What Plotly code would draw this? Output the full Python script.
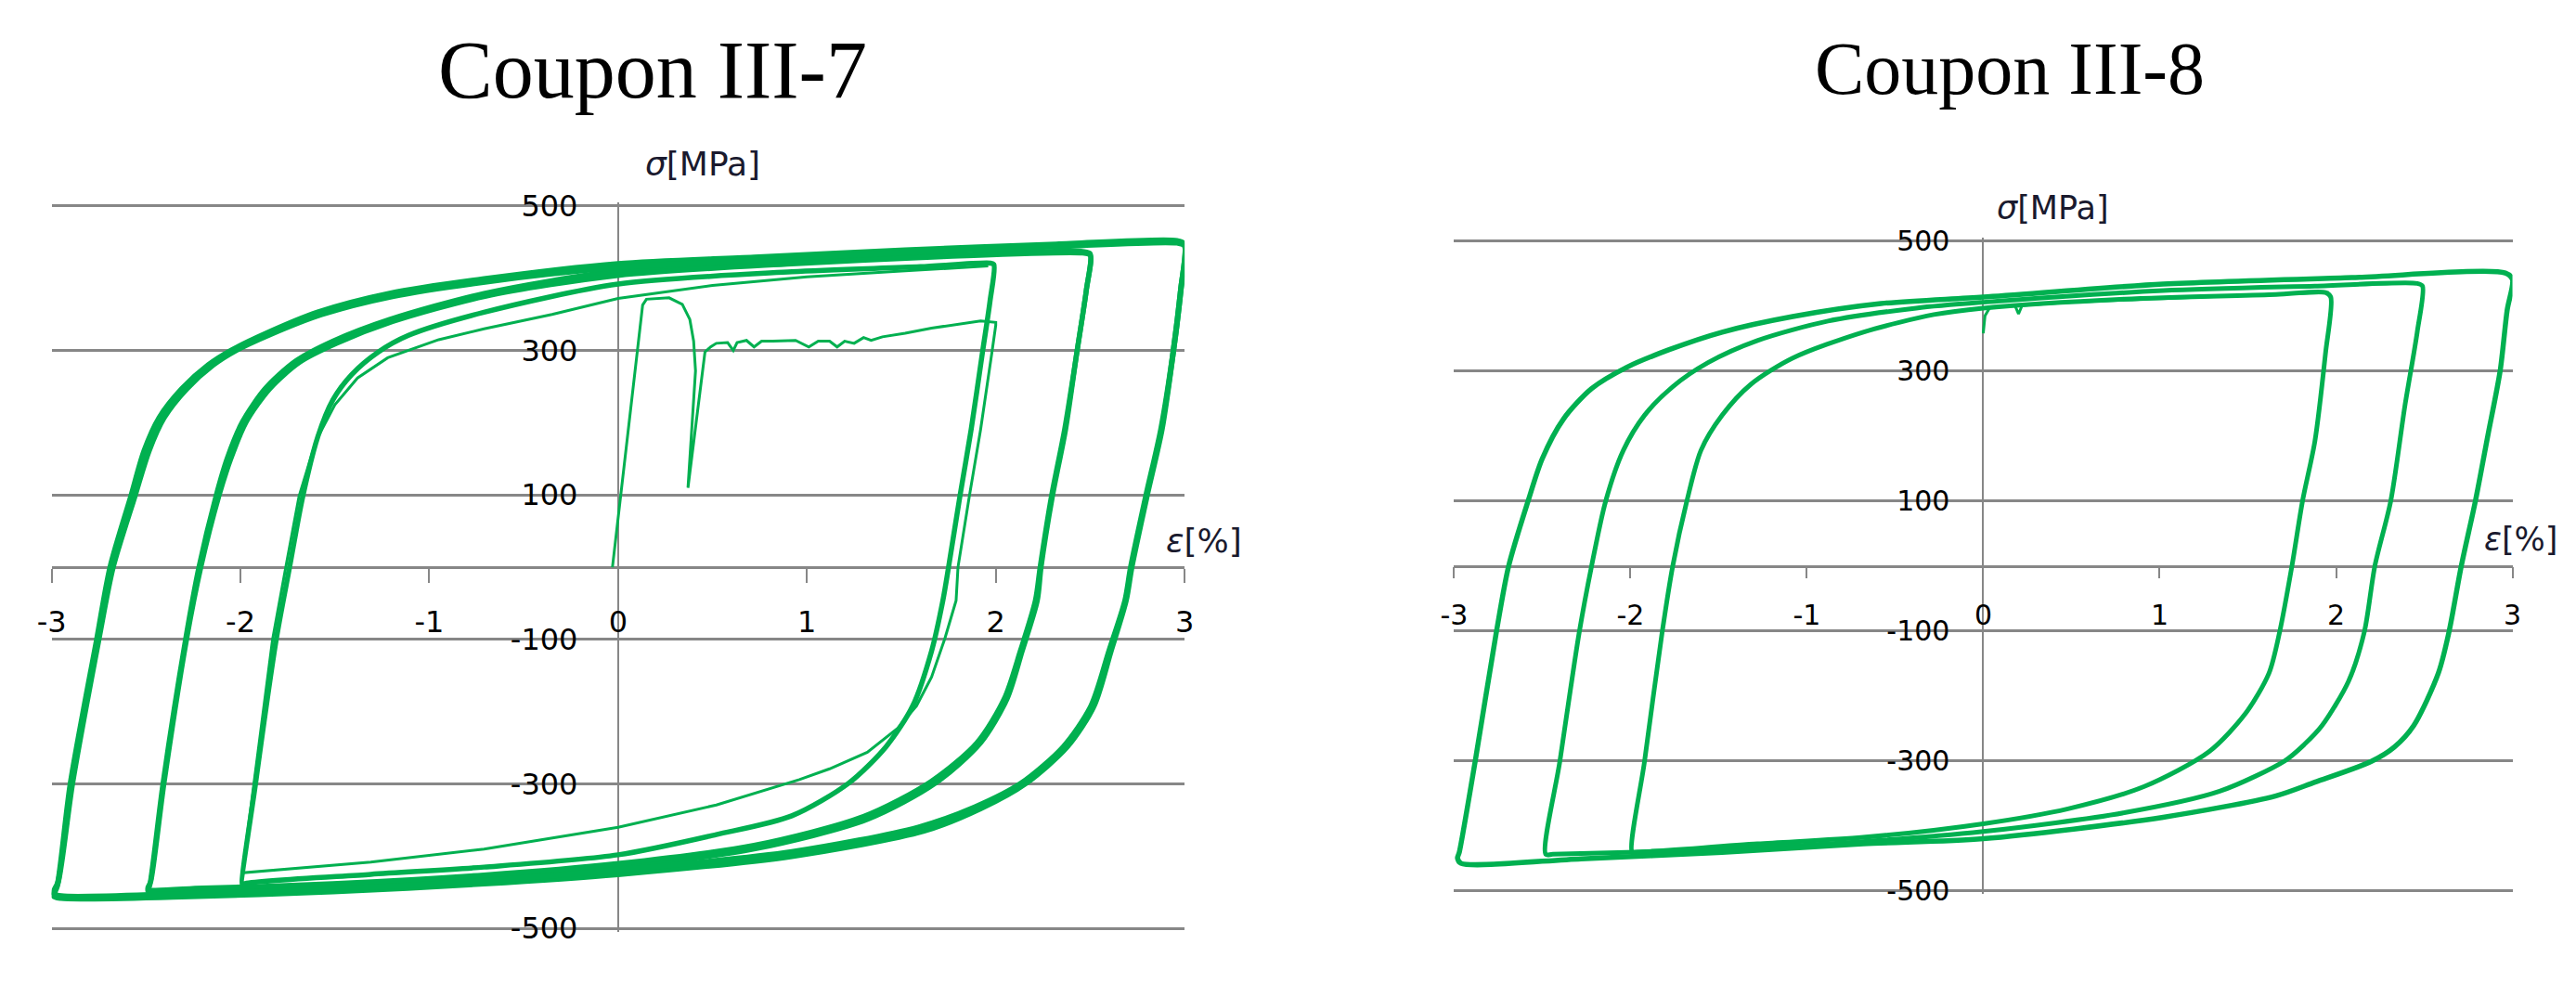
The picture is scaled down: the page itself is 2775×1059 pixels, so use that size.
import plotly.graph_objects as go

GREEN = "#00B050"
GRID = "#878787"

# tick values / labels (shared by both panels)
x_ticks = [-3, -2, -1, 0, 1, 2, 3]
x_labels = ["-3", "-2", "-1", "0", "1", "2", "3"]
y_ticks = [-500, -300, -100, 100, 300, 500]
y_labels = ["-500", "-300", "-100", "100", "300", "500"]

# ---- Coupon III-7 ----
# first cycle: loading with yield plateau to 2 %, back to -2 %, up again
c7_first_eps = [-0.03, 0.13, 0.15, 0.27, 0.34, 0.38, 0.40, 0.41, 0.37, 0.44, 0.46, 0.49,
                0.52, 0.58, 0.61, 0.63, 0.68, 0.72, 0.76, 0.82, 0.94, 1.01, 1.06, 1.12,
                1.16, 1.20, 1.25, 1.30, 1.34, 1.40, 1.52, 1.66, 1.80, 1.92, 2.00,
                2.00, 1.98, 1.92, 1.86, 1.80, 1.79, 1.73, 1.66, 1.58, 1.48, 1.32, 1.12,
                0.96, 0.52, 0.00, -0.71, -1.31, -1.99,
                -1.93, -1.83, -1.76, -1.69, -1.60, -1.50, -1.38, -1.22, -0.95, -0.71,
                -0.35, 0.00, 0.50, 1.00, 1.50, 1.96]
c7_first_sig = [0, 363, 371, 373, 364, 343, 313, 272, 110, 257, 298, 305,
                310, 311, 300, 311, 314, 305, 313, 313, 314, 305, 313, 313,
                305, 313, 310, 318, 314, 319, 324, 331, 336, 341, 339,
                335, 298, 191, 98, 0, -46, -99, -152, -192, -223, -256, -279,
                -294, -329, -360, -390, -408, -423,
                -300, -100, 0, 98, 175, 225, 262, 290, 315, 330,
                350, 372, 390, 402, 410, 417]

# +-2 % cycles
c7_a20_eps = [-1.99, -1.92, -1.81, -1.74, -1.67, -1.59, -1.51, -1.41, -1.27, -1.11, -0.71,
              0.00, 0.92, 1.60, 1.97, 1.99, 1.97, 1.93, 1.87, 1.81, 1.75, 1.72, 1.66,
              1.56, 1.42, 1.22, 0.92, 0.52, 0.00, -0.71, -1.31, -1.98, -1.99]
c7_a20_sig = [-440, -299, -99, 0, 98, 181, 232, 267, 298, 321, 353,
              392, 409, 416, 421, 419, 369, 298, 191, 98, 0, -46, -116,
              -192, -248, -299, -344, -370, -398, -415, -425, -438, -440]

# +-2.5 % cycles (outer and inner strand of the bundle)
c7_a25_eps = [-2.49, -2.48, -2.41, -2.29, -2.22, -2.13, -2.07, -1.99, -1.87, -1.71, -1.51,
              -1.21, -0.71, 0.00, 0.92, 1.72, 2.46, 2.50, 2.48, 2.43, 2.37, 2.30, 2.24,
              2.22, 2.14, 2.06, 1.92, 1.68, 1.32, 0.72, 0.00, -0.71, -1.51, -2.20, -2.49]
c7_a25_sig = [-448, -440, -299, -99, 0, 98, 151, 201, 247, 285, 313,
              343, 379, 410, 423, 432, 437, 434, 384, 298, 191, 98, 0,
              -46, -116, -182, -243, -299, -349, -390, -415, -430, -441, -447, -448]
c7_a25b_eps = [-2.49, -2.475, -2.405, -2.285, -2.21, -2.115, -2.05, -1.97, -1.845, -1.685, -1.49,
               -1.195, -0.705, 0.00, 0.92, 1.72, 2.46, 2.50, 2.48, 2.43, 2.365, 2.295, 2.235,
               2.21, 2.13, 2.045, 1.90, 1.655, 1.30, 0.72, 0.00, -0.71, -1.51, -2.20, -2.49]
c7_a25b_sig = [-445, -435, -299, -99, 0, 98, 151, 201, 247, 284, 310,
               340, 375, 404, 420, 430, 435, 432, 384, 298, 191, 98, 0,
               -46, -116, -182, -243, -297, -345, -385, -410, -426, -438, -444, -445]

# +-3 % cycles (outer and inner strand of the bundle)
c7_a30_eps = [-2.99, -2.97, -2.90, -2.76, -2.69, -2.58, -2.51, -2.43, -2.31, -2.17, -2.05,
              -1.87, -1.59, -1.21, -0.71, 0.00, 0.72, 1.52, 2.32, 2.96, 3.00, 2.98, 2.94,
              2.88, 2.80, 2.72, 2.69, 2.61, 2.52, 2.38, 2.16, 1.92, 1.62, 0.92, 0.00,
              -0.71, -1.51, -2.31, -2.95, -2.99]
c7_a30_sig = [-455, -441, -299, -99, 0, 98, 161, 207, 247, 280, 300,
              323, 353, 379, 399, 420, 429, 439, 447, 452, 447, 384, 298,
              191, 98, 0, -46, -116, -192, -248, -299, -334, -365, -400, -425,
              -438, -449, -456, -458, -455]
c7_a30b_eps = [-2.99, -2.965, -2.89, -2.75, -2.675, -2.56, -2.485, -2.405, -2.285, -2.145, -2.025,
               -1.845, -1.57, -1.195, -0.705, 0.00, 0.72, 1.52, 2.32, 2.96, 3.00, 2.98, 2.94,
               2.875, 2.795, 2.715, 2.685, 2.60, 2.505, 2.36, 2.135, 1.89, 1.59, 0.92, 0.00,
               -0.71, -1.51, -2.31, -2.95, -2.99]
c7_a30b_sig = [-451, -435, -299, -99, 0, 98, 161, 207, 247, 280, 300,
               322, 350, 375, 395, 415, 425, 436, 444, 449, 445, 384, 298,
               191, 98, 0, -46, -116, -192, -248, -299, -332, -360, -394, -419,
               -434, -445, -452, -455, -451]

# ---- Coupon III-8 ----
c8_first_eps = [0.00, 0.01, 0.04, 0.18, 0.20, 0.22, 0.50, 1.00, 1.50, 1.96]
c8_first_sig = [358, 385, 399, 401, 388, 401, 406, 412, 417, 421]

c8_a20_eps = [-1.99, -1.92, -1.82, -1.76, -1.68, -1.60, -1.48, -1.32, -1.08, -0.68, -0.28,
              0.00, 0.80, 1.66, 1.94, 1.97, 1.94, 1.88, 1.81, 1.75, 1.68, 1.62, 1.49,
              1.28, 0.91, 0.48, 0.00, -0.68, -1.28, -1.96, -1.99]
c8_a20_sig = [-441, -301, -102, 0, 100, 178, 232, 279, 320, 360, 387,
              397, 411, 418, 421, 414, 327, 192, 100, 0, -102, -165, -226,
              -286, -340, -374, -397, -418, -428, -441, -441]

c8_a25_eps = [-2.48, -2.40, -2.29, -2.22, -2.14, -2.04, -1.92, -1.76, -1.56, -1.28, -0.88,
              -0.38, 0.00, 1.02, 1.88, 2.46, 2.49, 2.46, 2.39, 2.31, 2.22, 2.16, 2.07,
              1.92, 1.82, 1.71, 1.34, 0.80, 0.00, -0.88, -1.68, -2.44, -2.48]
c8_a25_sig = [-444, -301, -102, 0, 100, 178, 232, 276, 313, 347, 377,
              397, 406, 424, 431, 435, 431, 360, 246, 100, 0, -102, -178,
              -246, -275, -300, -347, -380, -409, -428, -438, -444, -444]

c8_a30_eps = [-2.98, -2.97, -2.88, -2.76, -2.69, -2.58, -2.50, -2.38, -2.22, -2.02,
              -1.78, -1.48, -1.08, -0.58, 0.00, 1.02, 2.09, 2.96, 3.00, 2.97, 2.93, 2.86,
              2.79, 2.71, 2.64, 2.58, 2.44, 2.33, 2.20, 1.88, 1.66, 1.02, 0.00, -0.68, -1.48,
              -2.28, -2.96, -2.98]
c8_a30_sig = [-450, -441, -301, -102, 0, 100, 165, 226, 273, 306,
              333, 360, 384, 404, 414, 434, 444, 451, 441, 394, 300, 200,
              100, 0, -102, -165, -246, -279, -301, -333, -354, -387, -420, -428, -441,
              -451, -458, -450]

fig = go.Figure()


def add_curve(eps, sig, axes, width, shape="spline"):
    line = dict(color=GREEN, width=width, shape=shape)
    if shape == "spline":
        line["smoothing"] = 0.8
    fig.add_trace(go.Scatter(
        x=eps, y=sig, mode="lines", line=line,
        xaxis=axes[0], yaxis=axes[1],
        showlegend=False, hoverinfo="skip",
    ))


add_curve(c7_first_eps, c7_first_sig, ("x", "y"), 3, "linear")
add_curve(c7_a20_eps, c7_a20_sig, ("x", "y"), 5.5)
add_curve(c7_a25_eps, c7_a25_sig, ("x", "y"), 5.5)
add_curve(c7_a25b_eps, c7_a25b_sig, ("x", "y"), 5.5)
add_curve(c7_a30_eps, c7_a30_sig, ("x", "y"), 6)
add_curve(c7_a30b_eps, c7_a30b_sig, ("x", "y"), 6)

add_curve(c8_first_eps, c8_first_sig, ("x2", "y2"), 3, "linear")
add_curve(c8_a20_eps, c8_a20_sig, ("x2", "y2"), 5)
add_curve(c8_a25_eps, c8_a25_sig, ("x2", "y2"), 5)
add_curve(c8_a30_eps, c8_a30_sig, ("x2", "y2"), 5.5)

tick_font = "DejaVu Sans"


def xaxis_cfg(dom, ypos, size, glw, tlen, standoff):
    return dict(domain=dom, range=[-3, 3], anchor="free", position=ypos,
                tickmode="array", tickvals=x_ticks, ticktext=x_labels,
                ticks="outside", ticklen=tlen, tickwidth=2, tickcolor=GRID,
                showline=True, linecolor=GRID, linewidth=glw,
                showgrid=False, zeroline=False, layer="below traces",
                tickfont=dict(family=tick_font, size=size, color="black"),
                ticklabelstandoff=standoff, fixedrange=True)


def yaxis_cfg(dom, xpos, size, glw, standoff):
    return dict(domain=dom, range=[-505, 505], anchor="free", position=xpos,
                tickmode="array", tickvals=y_ticks, ticktext=y_labels,
                ticks="", showline=True, linecolor=GRID, linewidth=2,
                showgrid=True, gridcolor=GRID, gridwidth=glw,
                zeroline=False, layer="below traces",
                tickfont=dict(family=tick_font, size=size, color="black"),
                ticklabelstandoff=standoff, fixedrange=True)


# panel domains in page pixels (y range padded by 5 MPa each side)
L_x = [40 / 2775, 1272 / 2775]
L_y = [1 - 1018 / 1059, 1 - 209 / 1059]
R_x = [1565 / 2775, 2716 / 2775]
R_y = [1 - 975.6 / 1059, 1 - 248.4 / 1059]

fig.update_layout(
    width=2775, height=1059,
    margin=dict(l=0, r=0, t=0, b=0),
    paper_bgcolor="white", plot_bgcolor="white",
    xaxis=xaxis_cfg(L_x, sum(L_y) / 2, 32, 3, 15, 14),
    yaxis=yaxis_cfg(L_y, sum(L_x) / 2, 32, 3, 36),
    xaxis2=xaxis_cfg(R_x, sum(R_y) / 2, 30, 2.5, 12, 14),
    yaxis2=yaxis_cfg(R_y, sum(R_x) / 2, 30, 2.5, 29),
)

titles = [
    ("Coupon III-7", 694 / 2775, 1 - 62 / 1059, 88),
    ("Coupon III-8", 2169 / 2775, 1 - 61 / 1059, 80),
]
for text, x, y, size in titles:
    fig.add_annotation(text=text, x=x, y=y, xref="paper", yref="paper",
                       xanchor="center", yanchor="middle", showarrow=False,
                       font=dict(family="Liberation Serif", size=size, color="black"))

labels = [
    ("<i>σ</i>[MPa]", 683 / 2775, 1 - 166 / 1059, 36),
    ("<i>ε</i>[%]", 1250 / 2775, 1 - 584 / 1059, 36),
    ("<i>σ</i>[MPa]", 2153 / 2775, 1 - 215 / 1059, 35),
    ("<i>ε</i>[%]", 2683 / 2775, 1 - 583 / 1059, 35),
]
for text, x, y, size in labels:
    fig.add_annotation(text=text, x=x, y=y, xref="paper", yref="paper",
                       xanchor="left", yanchor="middle", showarrow=False,
                       font=dict(family=tick_font, size=size, color="#1a1a2e"))

fig.write_html("out.html", config={"displayModeBar": False},
               post_script="document.body.style.margin = '0px';")
